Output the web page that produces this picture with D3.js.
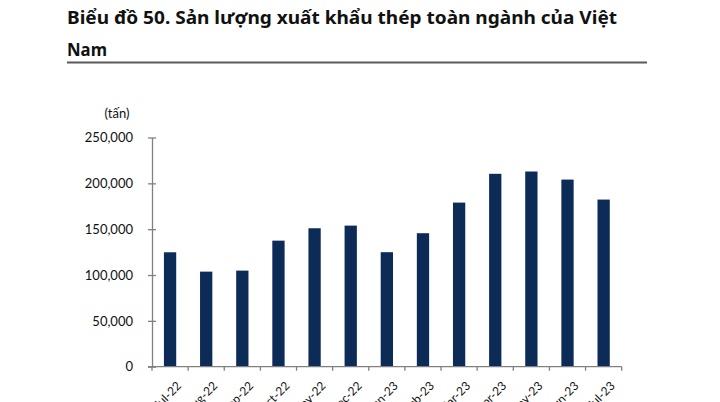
<!DOCTYPE html>
<html><head><meta charset="utf-8">
<script src="https://cdn.jsdelivr.net/npm/d3@7"></script>
<style>body{margin:0;background:#fff}svg{display:block}</style>
</head><body>
<svg id="c" width="720" height="402"></svg>
<script>
const categories = ["Jul-22","Aug-22","Sep-22","Oct-22","Nov-22","Dec-22","Jan-23","Feb-23","Mar-23","Apr-23","May-23","Jun-23","Jul-23"];
const values = [124800,103700,104800,137500,151000,153900,124900,145600,179000,210400,212900,204100,182300];
const yTicks = [0,50000,100000,150000,200000,250000];
const titleLines = ["Biểu đồ 50. Sản lượng xuất khẩu thép toàn ngành của Việt","Nam"];
const unitLabel = "(tấn)";

(function(){
const svg = d3.select("#c");
const pL = 152, pR = 621.7, pT = 137.5, pB = 366.7;
const x = d3.scaleBand().domain(categories).range([pL, pR]).paddingInner(0.66).paddingOuter(0.33);
const xb = d3.scaleBand().domain(categories).range([pL, pR]);
const y = d3.scaleLinear().domain([0,250000]).range([pB, pT]);

const tf = "'Noto Sans', 'Open Sans', sans-serif";
svg.append("text").attr("x",67).attr("y",24).attr("font-family",tf).attr("font-weight",700)
  .attr("font-size",18.5).attr("fill","#111").attr("textLength",550).attr("lengthAdjust","spacingAndGlyphs").text(titleLines[0]);
svg.append("text").attr("x",67).attr("y",56).attr("font-family",tf).attr("font-weight",700)
  .attr("font-size",18.5).attr("fill","#111").attr("textLength",40).attr("lengthAdjust","spacingAndGlyphs").text(titleLines[1]);
svg.append("line").attr("x1",67).attr("x2",647).attr("y1",62.5).attr("y2",62.5).attr("stroke","#5a5a5a").attr("stroke-width",2);

const lf = "Lato, 'Liberation Sans', sans-serif";
svg.append("text").attr("x",117).attr("y",118).attr("text-anchor","middle").attr("font-family",lf)
  .attr("font-size",13).attr("fill","#111").text(unitLabel);

svg.append("g").selectAll("rect").data(values).join("rect")
  .attr("x",(d,i)=>x(categories[i])).attr("width",x.bandwidth())
  .attr("y",d=>y(d)).attr("height",d=>pB-y(d)).attr("fill","#0c2b57");

const yAxis = d3.axisLeft(y).tickValues(yTicks).tickFormat(d3.format(",")).tickSizeInner(4).tickSizeOuter(0);
const gy = svg.append("g").attr("transform",`translate(${pL},0)`).call(yAxis);
gy.select(".domain").attr("stroke","#808080").attr("stroke-width",1.3);
gy.selectAll(".tick line").attr("stroke","#808080").attr("x1",4).attr("x2",-4).attr("stroke-width",1.3);
gy.selectAll(".tick text").attr("x",-19).attr("font-family",lf).attr("font-size",13).attr("fill","#111");

const gx = svg.append("g").attr("transform",`translate(0,${pB})`);
gx.append("line").attr("x1",pL-4).attr("x2",pR).attr("stroke","#808080").attr("stroke-width",1.3);
const bounds = categories.map(c=>xb(c)).concat([pR]);
gx.selectAll("line.t").data(bounds).join("line").attr("class","t")
  .attr("x1",d=>d).attr("x2",d=>d).attr("y1",0).attr("y2",4).attr("stroke","#808080").attr("stroke-width",1.3);
gx.selectAll("text").data(categories).join("text")
  .attr("transform",d=>`translate(${xb(d)+xb.bandwidth()/2+6},${14}) rotate(-45)`)
  .attr("text-anchor","end").attr("dy","0.7em").attr("font-family",lf).attr("font-size",12).attr("fill","#111").text(d=>d);
})();
</script>
</body></html>
